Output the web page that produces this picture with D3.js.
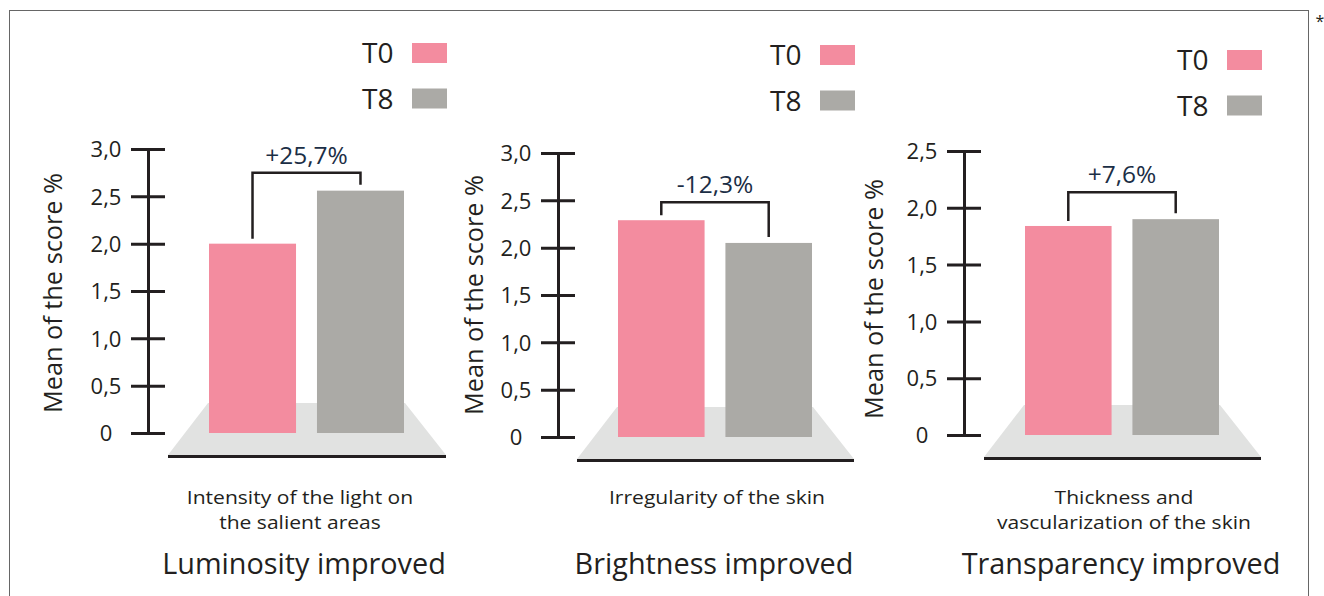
<!DOCTYPE html>
<html>
<head>
<meta charset="utf-8">
<script src="https://cdn.jsdelivr.net/npm/d3@7"></script>
<style>
  html, body { margin: 0; padding: 0; background: #fff; }
  svg { display: block; font-family: "Open Sans", "Noto Sans", sans-serif; }
</style>
</head>
<body>
<svg id="chart" width="1324" height="596"></svg>
<script>
// ---------- data ----------
const panelTitles = ["Luminosity improved", "Brightness improved", "Transparency improved"];
const panelSubtitles = [
  ["Intensity of the light on", "the salient areas"],
  ["Irregularity of the skin"],
  ["Thickness and", "vascularization of the skin"]
];
const seriesNames = ["T0", "T8"];
const t0Values = [2.00, 2.29, 1.84];
const t8Values = [2.56, 2.05, 1.90];
const changeLabels = ["+25,7%", "-12,3%", "+7,6%"];
const yTicks = [
  [0, 0.5, 1.0, 1.5, 2.0, 2.5, 3.0],
  [0, 0.5, 1.0, 1.5, 2.0, 2.5, 3.0],
  [0, 0.5, 1.0, 1.5, 2.0, 2.5]
];
const yAxisTitle = "Mean of the score %";

// ---------- layout / style ----------
const colors = { T0: "#f38c9f", T8: "#abaaa6" };
const ink = "#231f20";
const navy = "#1b2e45";
const layout = [
  { axisX: 148, y0: 433, yTop: 149, bars: [209, 404], titleX: 62, titleY: 293, subX: 300, headX: 304, legTop: 43, bracketGap: 18 },
  { axisX: 558, y0: 437, yTop: 153, bars: [618, 812], titleX: 483, titleY: 295, subX: 717, headX: 714, legTop: 45, bracketGap: 18 },
  { axisX: 964, y0: 435, yTop: 151, bars: [1025, 1219], titleX: 883, titleY: 299, subX: 1124, headX: 1121, legTop: 50, bracketGap: 27 }
];

const svg = d3.select("#chart");

// frame
svg.append("rect")
  .attr("x", 9.5).attr("y", 10.5)
  .attr("width", 1299).attr("height", 600)
  .attr("fill", "none").attr("stroke", "#666").attr("stroke-width", 1);
svg.append("text")
  .attr("x", 1320).attr("y", 27)
  .attr("text-anchor", "middle")
  .attr("font-size", 16).attr("fill", ink)
  .text("*");

const fmt = v => v === 0 ? "0" : d3.format(".1f")(v).replace(".", ",");

layout.forEach((L, i) => {
  const vals = [t0Values[i], t8Values[i]];
  const ticks = yTicks[i];
  const g = svg.append("g");

  const y = d3.scaleLinear().domain([0, d3.max(ticks)]).range([L.y0, L.yTop]);
  const x = d3.scaleBand().domain(seriesNames).range(L.bars).paddingInner(0.194).paddingOuter(0);
  const bw = x.bandwidth();
  const left = L.bars[0], right = L.bars[1];

  // platform
  const pTop = L.y0 - 30, pBot = L.y0 + 22;
  g.append("path")
    .attr("d", `M${left - 1},${pTop} L${right + 1},${pTop} L${right + 42},${pBot} L${left - 41},${pBot} Z`)
    .attr("fill", "#e1e2e1");
  g.append("line")
    .attr("x1", left - 41).attr("x2", right + 42)
    .attr("y1", pBot + 1.5).attr("y2", pBot + 1.5)
    .attr("stroke", ink).attr("stroke-width", 3);

  // bars
  g.selectAll("rect.bar")
    .data(seriesNames.map((s, k) => ({ s, v: vals[k] })))
    .join("rect")
    .attr("class", "bar")
    .attr("x", d => x(d.s))
    .attr("y", d => y(d.v))
    .attr("width", bw)
    .attr("height", d => y(0) - y(d.v))
    .attr("fill", d => colors[d.s]);

  // axis
  const axis = d3.axisLeft(y).tickValues(ticks).tickFormat(fmt).tickSizeInner(17).tickSizeOuter(0).tickPadding(0);
  const ag = g.append("g").attr("transform", `translate(${L.axisX},0)`).call(axis);
  ag.select(".domain").attr("stroke", ink).attr("stroke-width", 3);
  ag.selectAll(".tick line").attr("x1", -17).attr("x2", 17).attr("stroke", ink).attr("stroke-width", 3);
  ag.selectAll(".tick text")
    .attr("x", -42)
    .attr("text-anchor", "middle")
    .attr("dy", "0.35em")
    .attr("font-size", 22)
    .attr("font-family", "'Open Sans', sans-serif")
    .attr("fill", ink);

  // y title
  g.append("text")
    .attr("transform", `translate(${L.titleX},${L.titleY}) rotate(-90)`)
    .attr("text-anchor", "middle")
    .attr("font-size", 26)
    .attr("textLength", 240)
    .attr("lengthAdjust", "spacingAndGlyphs")
    .attr("fill", ink)
    .text(yAxisTitle);

  // bracket
  const cx0 = x("T0") + bw / 2, cx1 = x("T8") + bw / 2;
  const by = y(d3.max(vals)) - L.bracketGap;
  g.append("path")
    .attr("d", `M${cx0},${y(vals[0]) - 5} V${by} H${cx1} V${y(vals[1]) - 6}`)
    .attr("fill", "none").attr("stroke", ink).attr("stroke-width", 2.5);
  g.append("text")
    .attr("x", (cx0 + cx1) / 2).attr("y", by - 9)
    .attr("text-anchor", "middle")
    .attr("font-size", 24.5)
    .attr("fill", navy)
    .text(changeLabels[i]);

  // legend
  const lg = g.append("g");
  seriesNames.forEach((s, k) => {
    const top = L.legTop + k * 45.5;
    lg.append("rect")
      .attr("x", right + 8).attr("y", top)
      .attr("width", 35).attr("height", 20)
      .attr("fill", colors[s]);
    lg.append("text")
      .attr("x", right - 42).attr("y", top + 20)
      .attr("font-size", 28)
      .attr("fill", ink)
      .text(s);
  });

  // subtitle lines (slightly widened to match the reference face)
  panelSubtitles[i].forEach((line, k) => {
    const t = g.append("text")
      .attr("x", L.subX).attr("y", 504 + k * 24.6)
      .attr("text-anchor", "middle")
      .attr("font-size", 18)
      .attr("fill", ink)
      .text(line);
    const w = t.node().getComputedTextLength();
    t.attr("textLength", w * 1.17).attr("lengthAdjust", "spacingAndGlyphs");
  });

  // panel title
  g.append("text")
    .attr("x", L.headX).attr("y", 574)
    .attr("text-anchor", "middle")
    .attr("font-size", 28.8)
    .attr("fill", ink)
    .text(panelTitles[i]);
});
</script>
</body>
</html>
